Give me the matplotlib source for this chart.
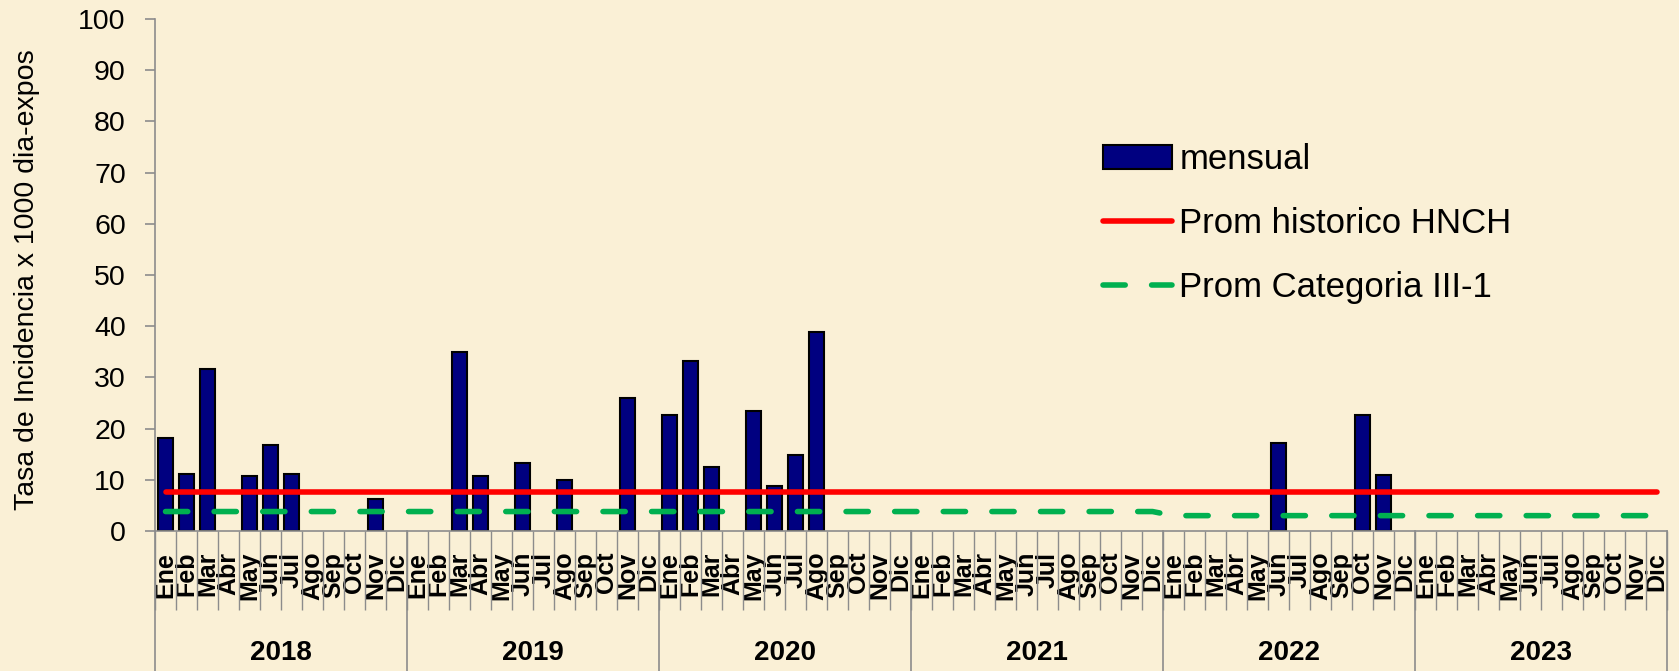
import numpy as np
import matplotlib
matplotlib.use("Agg")
import matplotlib.pyplot as plt
from matplotlib.patches import Patch
from matplotlib.lines import Line2D
import matplotlib.transforms as mtransforms

years = ["2018", "2019", "2020", "2021", "2022", "2023"]
months = ["Ene", "Feb", "Mar", "Abr", "May", "Jun", "Jul", "Ago", "Sep", "Oct", "Nov", "Dic"]

nan = np.nan
mensual_2018 = [18.1, 11.1, 31.6, nan, 10.7, 16.7, 11.1, nan, nan, nan, 6.2, nan]
mensual_2019 = [nan, nan, 35.0, 10.8, nan, 13.3, nan, 9.9, nan, nan, 25.9, nan]
mensual_2020 = [22.7, 33.3, 12.5, nan, 23.5, 8.8, 14.9, 38.8, nan, nan, nan, nan]
mensual_2021 = [nan, nan, nan, nan, nan, nan, nan, nan, nan, nan, nan, nan]
mensual_2022 = [nan, nan, nan, nan, nan, 17.2, nan, nan, nan, 22.6, 10.9, nan]
mensual_2023 = [nan, nan, nan, nan, nan, nan, nan, nan, nan, nan, nan, nan]

prom_hnch_por_anio = [7.6, 7.6, 7.6, 7.6, 7.6, 7.6]
prom_cat_por_anio = [3.8, 3.8, 3.8, 3.8, 3.0, 3.0]

mensual = mensual_2018 + mensual_2019 + mensual_2020 + mensual_2021 + mensual_2022 + mensual_2023
prom_hnch = [v for v in prom_hnch_por_anio for _ in months]
prom_cat = [v for v in prom_cat_por_anio for _ in months]
cat_labels = [m for _ in years for m in months]

W, H = 1679, 671
bg = "#FAF0D6"
grey = "#8C8C8C"
fig = plt.figure(figsize=(W / 100, H / 100), dpi=100, facecolor=bg)
ax = fig.add_axes([155 / W, 1 - 531 / H, 1512 / W, 512 / H])
ax.set_facecolor(bg)

x = np.arange(len(mensual))
ax.bar(x, mensual, width=0.75, color="#000080", edgecolor="black", linewidth=1.5, zorder=2)
ax.plot(x, prom_hnch, color="#FF0000", lw=4, solid_capstyle="round", zorder=3)
ax.plot(x, prom_cat, color="#00B050", lw=4, dashes=(4, 4.75), dash_capstyle="round", zorder=3)

ax.set_xlim(-0.5, len(mensual) - 0.5)
ax.set_ylim(0, 100)
ax.set_yticks(range(0, 101, 10))
for s in ["top", "right"]:
    ax.spines[s].set_visible(False)
ax.spines["left"].set_color(grey)
ax.spines["bottom"].set_color(grey)
ax.spines["left"].set_linewidth(1.2)
ax.spines["bottom"].set_linewidth(1.2)
ax.tick_params(axis="y", direction="out", length=7, width=1.2, color=grey,
               labelsize=20.5, pad=14)
for t in ax.get_yticklabels():
    t.set_family("Liberation Sans")

ax.set_xticks(x)
ax.set_xticklabels(cat_labels, rotation=90, fontweight="bold",
                   family="Liberation Sans", fontsize=18)
ax.tick_params(axis="x", which="major", length=0, pad=15)
ax.set_xticks(np.arange(-0.5, len(mensual), 1.0), minor=True)
ax.tick_params(axis="x", which="minor", length=57, width=1, color=grey)

trans = mtransforms.blended_transform_factory(ax.transData, ax.transAxes)
for i in range(len(years) + 1):
    b = i * 12 - 0.5
    ax.plot([b, b], [0, -0.3], transform=trans, color=grey, lw=1.2, clip_on=False)
for i, yname in enumerate(years):
    ax.text(i * 12 + 5.5, -0.238, yname, transform=trans, ha="center", va="center",
            fontsize=20, fontweight="bold", family="Liberation Sans")

ax.set_ylabel("Tasa de Incidencia x 1000 dia-expos", fontsize=20.5, family="Liberation Sans")
ax.yaxis.set_label_coords(-(155 - 40) / 1512, 0.49)

handles = [
    Patch(facecolor="#000080", edgecolor="black", linewidth=1.5),
    Line2D([0], [0], color="#FF0000", lw=4, solid_capstyle="round"),
    Line2D([0], [0], color="#00B050", lw=4, dashes=(4, 4.75), dash_capstyle="round"),
]
labels = ["mensual", "Prom historico HNCH", "Prom Categoria III-1"]
fig.legend(handles, labels, loc="upper left", bbox_to_anchor=(1103 / W, 1 - 143 / H),
           frameon=False, prop={"family": "Liberation Sans", "size": 25},
           handlelength=2.0, handleheight=0.7, handletextpad=0.2, labelspacing=0.9,
           borderpad=0, borderaxespad=0)

fig.savefig("out.png", dpi=100, facecolor=bg)
